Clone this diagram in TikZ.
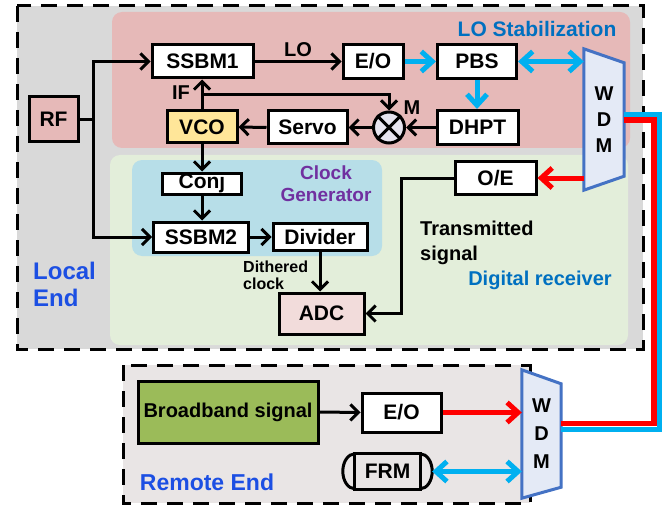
\documentclass[tikz,border=0pt]{standalone}
\usepackage{fontspec}
\setmainfont{Liberation Sans}
\usetikzlibrary{arrows.meta,calc}
\definecolor{localgray}{HTML}{D9D9D9}
\definecolor{remotegray}{HTML}{E9E5E5}
\definecolor{lopink}{HTML}{E6B9B8}
\definecolor{rxgreen}{HTML}{E3EEDA}
\definecolor{clkblue}{HTML}{B7DEE8}
\definecolor{vcoyellow}{HTML}{FFE699}
\definecolor{adcpink}{HTML}{F2DCDB}
\definecolor{bbgreen}{HTML}{9BBB59}
\definecolor{wdmfill}{HTML}{E4EAF6}
\definecolor{wdmline}{HTML}{4472C4}
\definecolor{mixfill}{HTML}{E6E4EF}
\definecolor{fiberblue}{HTML}{00B0F0}
\definecolor{fiberred}{HTML}{FF0000}
\definecolor{endblue}{HTML}{1C4FE3}
\definecolor{regblue}{HTML}{0070C0}
\definecolor{clkpurple}{HTML}{7030A0}
\begin{document}
\begin{tikzpicture}[x=1pt,y=-1pt,
    blk/.style={draw,line width=3pt,fill=white,inner sep=0pt,font=\bfseries\fontsize{21}{24}\selectfont},
    wdm/.style={inner sep=0pt,align=center,font=\bfseries\fontsize{20}{26}\selectfont},
    lbl/.style={font=\bfseries\fontsize{20}{24}\selectfont,inner sep=0pt},
    region/.style={rounded corners=10pt},
    endbox/.style={line width=3pt,dash pattern=on 16pt off 10pt},
    conn/.style={line width=3pt,-{Straight Barb[length=8pt,width=16pt]}},
    bluelink/.style={line width=5pt,fiberblue,-{Straight Barb[length=11pt,width=20pt]}},
    redlink/.style={line width=5pt,fiberred,-{Straight Barb[length=11pt,width=20pt]}},
    fiber/.style={line width=5.5pt}]
    \useasboundingbox (0,0) rectangle (668,505);
    % local end
    \fill[localgray] (17,6) rectangle (643,349);
    \fill[lopink,region] (112,12) rectangle (630,148);
    \fill[rxgreen,region] (110,155) rectangle (628,345);
    \fill[clkblue,region] (132,160) rectangle (382,256);
    \draw[endbox] (17,6) rectangle (643,349);
    % remote end
    \fill[remotegray] (123,365) rectangle (530,503);
    \draw[endbox] (123,365) rectangle (530,503);

    \node[lbl,regblue,font=\bfseries\fontsize{21}{24}\selectfont] (lostab) at (537,29) {LO Stabilization};
    \node[lbl,clkpurple,align=center,font=\bfseries\fontsize{19}{22}\selectfont] (clkgen) at (326,184) {Clock\\Generator};
    \node[lbl,regblue] (digrx) at (540,280) {Digital receiver};
    \node[lbl,endblue,anchor=west,align=left,font=\bfseries\fontsize{24}{27}\selectfont] (localend) at (33,284) {Local\\End};
    \node[lbl,endblue,font=\bfseries\fontsize{23}{27}\selectfont] (remoteend) at (207,482) {Remote End};

    \node[blk,fill=lopink,minimum width=49pt,minimum height=45pt] (rf) at (53.5,119.5) {RF};
    \node[blk,minimum width=101pt,minimum height=33pt] (ssbmone) at (202.5,61.5) {SSBM1};
    \node[blk,minimum width=60pt,minimum height=34pt] (eotop) at (373,61.5) {E/O};
    \node[blk,minimum width=79pt,minimum height=34pt] (pbs) at (477,61.5) {PBS};
    \node[blk,minimum width=81pt,minimum height=34pt] (dhpt) at (477.5,127.5) {DHPT};
    \node[draw,circle,line width=3pt,fill=mixfill,minimum size=31pt,inner sep=0pt] (mix) at (389,127.5) {};
    \draw[line width=3pt] (mix.north west) -- (mix.south east) (mix.north east) -- (mix.south west);
    \node[blk,minimum width=79pt,minimum height=33pt] (servo) at (307.5,127.5) {Servo};
    \node[blk,fill=vcoyellow,minimum width=70pt,minimum height=32pt] (vco) at (202,127) {VCO};
    \node[blk,minimum width=79pt,minimum height=21pt] (conj) at (202,183.5) {Conj};
    \node[blk,minimum width=95pt,minimum height=30pt] (ssbmtwo) at (201,237) {SSBM2};
    \node[blk,minimum width=94pt,minimum height=27pt] (divider) at (320,237) {Divider};
    \node[blk,fill=adcpink,minimum width=85pt,minimum height=41pt] (adc) at (321.5,313.5) {ADC};
    \node[blk,minimum width=81pt,minimum height=33pt] (oe) at (495.5,178) {O/E};

    \node[wdm,minimum width=40pt,minimum height=141pt] (wdmtop) at (604,119.5) {};
    \draw[line width=3pt,wdmline,fill=wdmfill] (wdmtop.north west) -- ($(wdmtop.north east)+(0,14)$) -- ($(wdmtop.south east)+(0,-14)$) -- (wdmtop.south west) -- cycle;
    \node[wdm] at (wdmtop) {W\\D\\M};

    \node[blk,fill=bbgreen,font=\bfseries\fontsize{20}{24}\selectfont,minimum width=180pt,minimum height=62pt] (bb) at (228,412) {Broadband signal};
    \node[blk,minimum width=79pt,minimum height=39pt] (eobot) at (401.5,412.5) {E/O};
    \node[lbl,font=\bfseries\fontsize{21}{24}\selectfont,minimum width=89pt,minimum height=35pt] (frm) at (387.5,471.5) {FRM};
    \draw[line width=3pt] ([xshift=12pt]frm.north west) rectangle ([xshift=-12pt]frm.south east);
    \draw[line width=3pt] ([xshift=12pt]frm.north west) arc[start angle=90,end angle=270,x radius=12pt,y radius=17.5pt];
    \draw[line width=3pt] ([xshift=-12pt]frm.north east) arc[start angle=90,end angle=-90,x radius=12pt,y radius=17.5pt];

    \node[wdm,minimum width=39pt,minimum height=128pt] (wdmbot) at (541.5,434) {};
    \draw[line width=3pt,wdmline,fill=wdmfill] (wdmbot.north west) -- ($(wdmbot.north east)+(0,14)$) -- ($(wdmbot.south east)+(0,-11)$) -- (wdmbot.south west) -- cycle;
    \node[wdm,font=\bfseries\fontsize{20}{28}\selectfont] at (wdmbot) {W\\D\\M};

    % connectors
    \draw[line width=3pt] (rf.east) -- ++(14,0) coordinate (rfsplit);
    \draw[conn] (rfsplit |- ssbmone.west) -- (rfsplit |- ssbmtwo.west) -- (ssbmtwo.west);
    \draw[conn] (rfsplit) |- (ssbmone.west);
    \draw[conn] (ssbmone.east) -- node[lbl,above=3pt] (lolbl) {LO} (eotop.west);
    \draw[bluelink] (eotop.east) -- (pbs.west);
    \draw[bluelink,{Straight Barb[length=11pt,width=20pt]}-{Straight Barb[length=11pt,width=20pt]}] (pbs.east) -- (pbs.east -| wdmtop.west);
    \draw[bluelink] (pbs.south) -- (pbs.south |- dhpt.north);
    \draw[conn] (dhpt.west) -- (mix.east);
    \draw[conn] (mix.west) -- (servo.east);
    \draw[conn] (servo.west) -- (vco.east);
    \draw[conn] (vco.north) -- (vco.north |- ssbmone.south);
    \node[lbl] (iflbl) at (181,93) {IF};
    \node[lbl] (mlbl) at (412,108) {M};
    \coordinate (ifsplit) at (202,95);
    \draw[conn] (ifsplit) -| (mix.north);
    \draw[conn] (vco.south) -- (vco.south |- conj.north);
    \draw[conn] (conj.south) -- (conj.south |- ssbmtwo.north);
    \draw[conn] (ssbmtwo.east) -- (divider.west);
    \draw[conn] (divider.south) -- (divider.south |- adc.north);
    \node[lbl,anchor=west,align=left,font=\bfseries\fontsize{16}{17}\selectfont] (dith) at (243,275) {Dithered\\clock};
    \draw[redlink] (oe.east -| wdmtop.west) -- (oe.east);
    \draw[conn] (oe.west) -- ++(-52,0) |- (adc.east);
    \node[lbl,anchor=west,align=left,font=\bfseries\fontsize{20}{25}\selectfont] (txsig) at (420,243) {Transmitted\\signal};

    \draw[conn] (bb.east) -- (eobot.west);
    \draw[redlink] (eobot.east) -- (eobot.east -| wdmbot.west);
    \draw[bluelink,{Straight Barb[length=11pt,width=20pt]}-{Straight Barb[length=11pt,width=20pt]}] (frm.east) -- (frm.east -| wdmbot.west);

    % fibre between the two ends
    \draw[fiber,fiberblue] ([yshift=5pt]wdmtop.east) -- ++(35.5,0) |- ([yshift=4.5pt]wdmbot.east);
    \draw[fiber,fiberred] ([yshift=-0.5pt]wdmtop.east) -- ++(30,0) |- ([yshift=10.5pt]wdmbot.east);
\end{tikzpicture}
\end{document}
